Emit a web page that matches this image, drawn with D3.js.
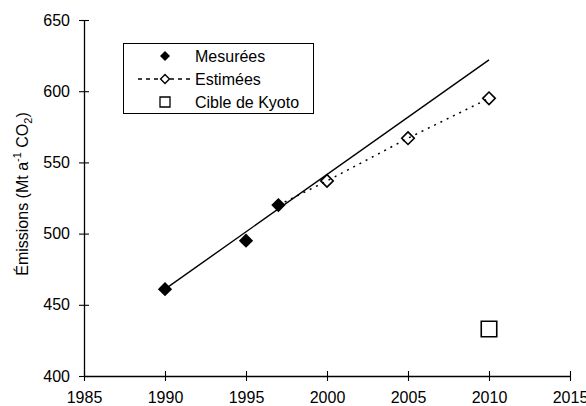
<!DOCTYPE html>
<html>
<head>
<meta charset="utf-8">
<script src="https://cdn.jsdelivr.net/npm/d3@7"></script>
<style>
  body { margin: 0; background: #fff; }
  text { font-family: Arial, "Liberation Sans", sans-serif; }
</style>
</head>
<body>
<div id="chart"></div>
<script>
// Data
var measuredYears = [1990, 1995, 1997];
var measuredValues = [461, 495, 520];
var estimatedYears = [1997, 2000, 2005, 2010];
var estimatedValues = [520, 537, 567, 595];
var kyotoYears = [2010];
var kyotoValues = [433];
var trendYears = [1990, 2010];
var trendValues = [461, 622];
var xTicks = [1985, 1990, 1995, 2000, 2005, 2010, 2015];
var yTicks = [400, 450, 500, 550, 600, 650];
var legendLabels = ['Mesurées', 'Estimées', 'Cible de Kyoto'];

var width = 586;
var height = 406;

var svg = d3.select('#chart')
    .append('svg')
    .attr('width', width)
    .attr('height', height);

// Scales
var x = d3.scaleLinear()
    .domain([1985, 2015])
    .range([84, 570]);

var y = d3.scaleLinear()
    .domain([400, 650])
    .range([376, 20]);

// Axes
var xAxis = svg.append('g')
    .attr('transform', 'translate(0,' + y(400) + ')')
    .call(d3.axisBottom(x).tickValues(xTicks).tickFormat(d3.format('d'))
      .tickSize(5).tickSizeOuter(0).tickPadding(11));

var yAxis = svg.append('g')
    .attr('transform', 'translate(' + x(1985) + ',0)')
    .call(d3.axisLeft(y).tickValues(yTicks)
      .tickSize(5).tickSizeOuter(0).tickPadding(9));

xAxis.selectAll('.tick line').attr('y1', -5);
yAxis.selectAll('.tick line').attr('x1', 5);

[xAxis, yAxis].forEach(function(ax) {
  ax.select('.domain').attr('stroke', '#000').attr('stroke-width', 1.3);
  ax.selectAll('.tick line').attr('stroke', '#000').attr('stroke-width', 1.1);
  ax.selectAll('.tick text')
      .attr('fill', '#000')
      .style('font-size', '16px')
      .style('font-family', 'Arial, "Liberation Sans", sans-serif');
});

// Y axis title
var title = svg.append('text')
    .attr('transform', 'translate(28,' + 194 + ') rotate(-90)')
    .attr('text-anchor', 'middle')
    .style('font-size', '16px');
title.append('tspan').text('Émissions (Mt a');
title.append('tspan').attr('dy', -7).style('font-size', '11px').text('-1');
title.append('tspan').attr('dy', 7).text(' CO');
title.append('tspan').attr('dy', 4).style('font-size', '11px').text('2');
title.append('tspan').attr('dy', -4).text(')');

// Trend line
var line = d3.line()
    .x(function(d) { return x(d[0]); })
    .y(function(d) { return y(d[1]); });

svg.append('path')
    .datum(d3.zip(trendYears, trendValues))
    .attr('d', line)
    .attr('fill', 'none')
    .attr('stroke', '#000')
    .attr('stroke-width', 1.4);

// Estimated dotted line
svg.append('path')
    .datum(d3.zip(estimatedYears, estimatedValues))
    .attr('d', line)
    .attr('fill', 'none')
    .attr('stroke', '#000')
    .attr('stroke-width', 1.5)
    .attr('stroke-dasharray', '2,5');

var diamondBig = d3.symbol().type(d3.symbolDiamond2).size(130);
var diamondHollow = d3.symbol().type(d3.symbolDiamond2).size(100);
var squareBig = d3.symbol().type(d3.symbolSquare).size(240);

// Estimated points (hollow)
svg.selectAll('.est')
    .data(d3.zip(estimatedYears, estimatedValues).slice(1))
    .enter()
    .append('path')
    .attr('class', 'est')
    .attr('transform', function(d) { return 'translate(' + x(d[0]) + ',' + y(d[1]) + ')'; })
    .attr('d', diamondHollow)
    .attr('fill', 'none')
    .attr('stroke', '#000')
    .attr('stroke-width', 1.6);

// Measured points
svg.selectAll('.meas')
    .data(d3.zip(measuredYears, measuredValues))
    .enter()
    .append('path')
    .attr('class', 'meas')
    .attr('transform', function(d) { return 'translate(' + x(d[0]) + ',' + y(d[1]) + ')'; })
    .attr('d', diamondBig)
    .attr('fill', '#000');

// Kyoto target
svg.selectAll('.kyoto')
    .data(d3.zip(kyotoYears, kyotoValues))
    .enter()
    .append('path')
    .attr('class', 'kyoto')
    .attr('transform', function(d) { return 'translate(' + x(d[0]) + ',' + y(d[1]) + ')'; })
    .attr('d', squareBig)
    .attr('fill', '#fff')
    .attr('stroke', '#000')
    .attr('stroke-width', 1.6);

// Legend
var legend = svg.append('g');
legend.append('rect')
    .attr('x', 123.5).attr('y', 43.5)
    .attr('width', 190).attr('height', 70)
    .attr('fill', '#fff')
    .attr('stroke', '#000')
    .attr('stroke-width', 1);

var rowY = [56, 79, 102];
legend.append('line')
    .attr('x1', 138).attr('x2', 192)
    .attr('y1', rowY[1]).attr('y2', rowY[1])
    .attr('stroke', '#000')
    .attr('stroke-width', 1.5)
    .attr('stroke-dasharray', '4,4');

legend.append('path')
    .attr('transform', 'translate(165,' + rowY[0] + ')')
    .attr('d', d3.symbol().type(d3.symbolDiamond2).size(64))
    .attr('fill', '#000');
legend.append('path')
    .attr('transform', 'translate(165,' + rowY[1] + ')')
    .attr('d', d3.symbol().type(d3.symbolDiamond2).size(50))
    .attr('fill', '#fff')
    .attr('stroke', '#000')
    .attr('stroke-width', 1.4);
legend.append('path')
    .attr('transform', 'translate(165,' + rowY[2] + ')')
    .attr('d', d3.symbol().type(d3.symbolSquare).size(100))
    .attr('fill', '#fff')
    .attr('stroke', '#000')
    .attr('stroke-width', 1.3);

legend.selectAll('.lab')
    .data(legendLabels)
    .enter()
    .append('text')
    .attr('class', 'lab')
    .attr('x', 195)
    .attr('y', function(d, i) { return rowY[i] + 6; })
    .style('font-size', '16px')
    .text(function(d) { return d; });
</script>
</body>
</html>
